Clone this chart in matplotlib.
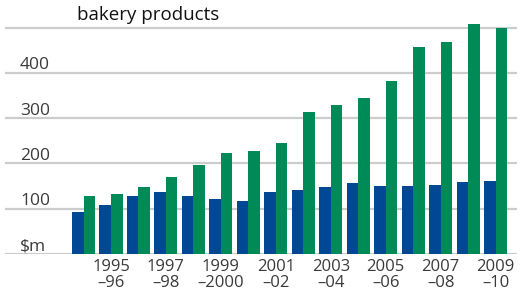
import matplotlib
matplotlib.use("Agg")
import matplotlib.pyplot as plt
import numpy as np
from matplotlib import transforms

years = ["1994\n–95", "1995\n–96", "1996\n–97", "1997\n–98", "1998\n–99", "1999\n–2000",
         "2000\n–01", "2001\n–02", "2002\n–03", "2003\n–04", "2004\n–05", "2005\n–06",
         "2006\n–07", "2007\n–08", "2008\n–09", "2009\n–10"]
blue_vals = [93, 109, 127, 136, 127, 122, 116, 136, 142, 149, 156, 151, 151, 153, 158, 162]
green_vals = [129, 133, 147, 171, 196, 222, 227, 246, 314, 330, 345, 381, 456, 467, 507, 498]
yticks = [0, 100, 200, 300, 400, 500]
ytick_labels = ["\\$m", "100", "200", "300", "400", ""]
title = "bakery products"

BLUE = "#004893"
GREEN = "#008a57"
GRID = "#cccccc"
TXT = "#3a3a3a"
FONT = "Open Sans"

W, H = 520, 293
fig = plt.figure(figsize=(W / 100, H / 100), dpi=100)
ax_left, ax_right = 5, 517
ax_bottom_px = 254
ymax = 520
px_per_unit = 45.3 / 100
ax_top_px = ax_bottom_px - ymax * px_per_unit
ax = fig.add_axes([ax_left / W, 1 - ax_bottom_px / H,
                   (ax_right - ax_left) / W, (ax_bottom_px - ax_top_px) / H])

x = np.arange(len(years))
bw = 0.42
for yv in yticks:
    ax.axhline(yv, color=GRID, lw=1.6, zorder=1)
ax.bar(x - bw / 2, blue_vals, width=bw, color=BLUE, zorder=2, linewidth=0)
ax.bar(x + bw / 2, green_vals, width=bw, color=GREEN, zorder=2, linewidth=0)

ax.set_xlim(-2.86, 15.78)
ax.set_ylim(0, ymax)
ax.axis("off")

# y labels
trans = transforms.blended_transform_factory(fig.transFigure, ax.transData)
for yv, lab in zip(yticks, ytick_labels):
    if lab:
        ax.annotate(lab, xy=(20 / W, yv), xycoords=trans, xytext=(0, 2.4),
                    textcoords="offset points", ha="left", va="baseline",
                    fontsize=12.5, color=TXT, family=FONT)

# x labels (every other)
for i in range(1, len(years), 2):
    ax.annotate(years[i], xy=(x[i], 0), xycoords="data", xytext=(0, -3.5),
                textcoords="offset points", ha="center", va="top",
                fontsize=12, color=TXT, family=FONT, linespacing=1.05,
                annotation_clip=False)

fig.text(77 / W, 1 - 6 / H, title, ha="left", va="top", fontsize=13.5,
         color="#111111", family=FONT)

fig.savefig("out.png", dpi=100)
